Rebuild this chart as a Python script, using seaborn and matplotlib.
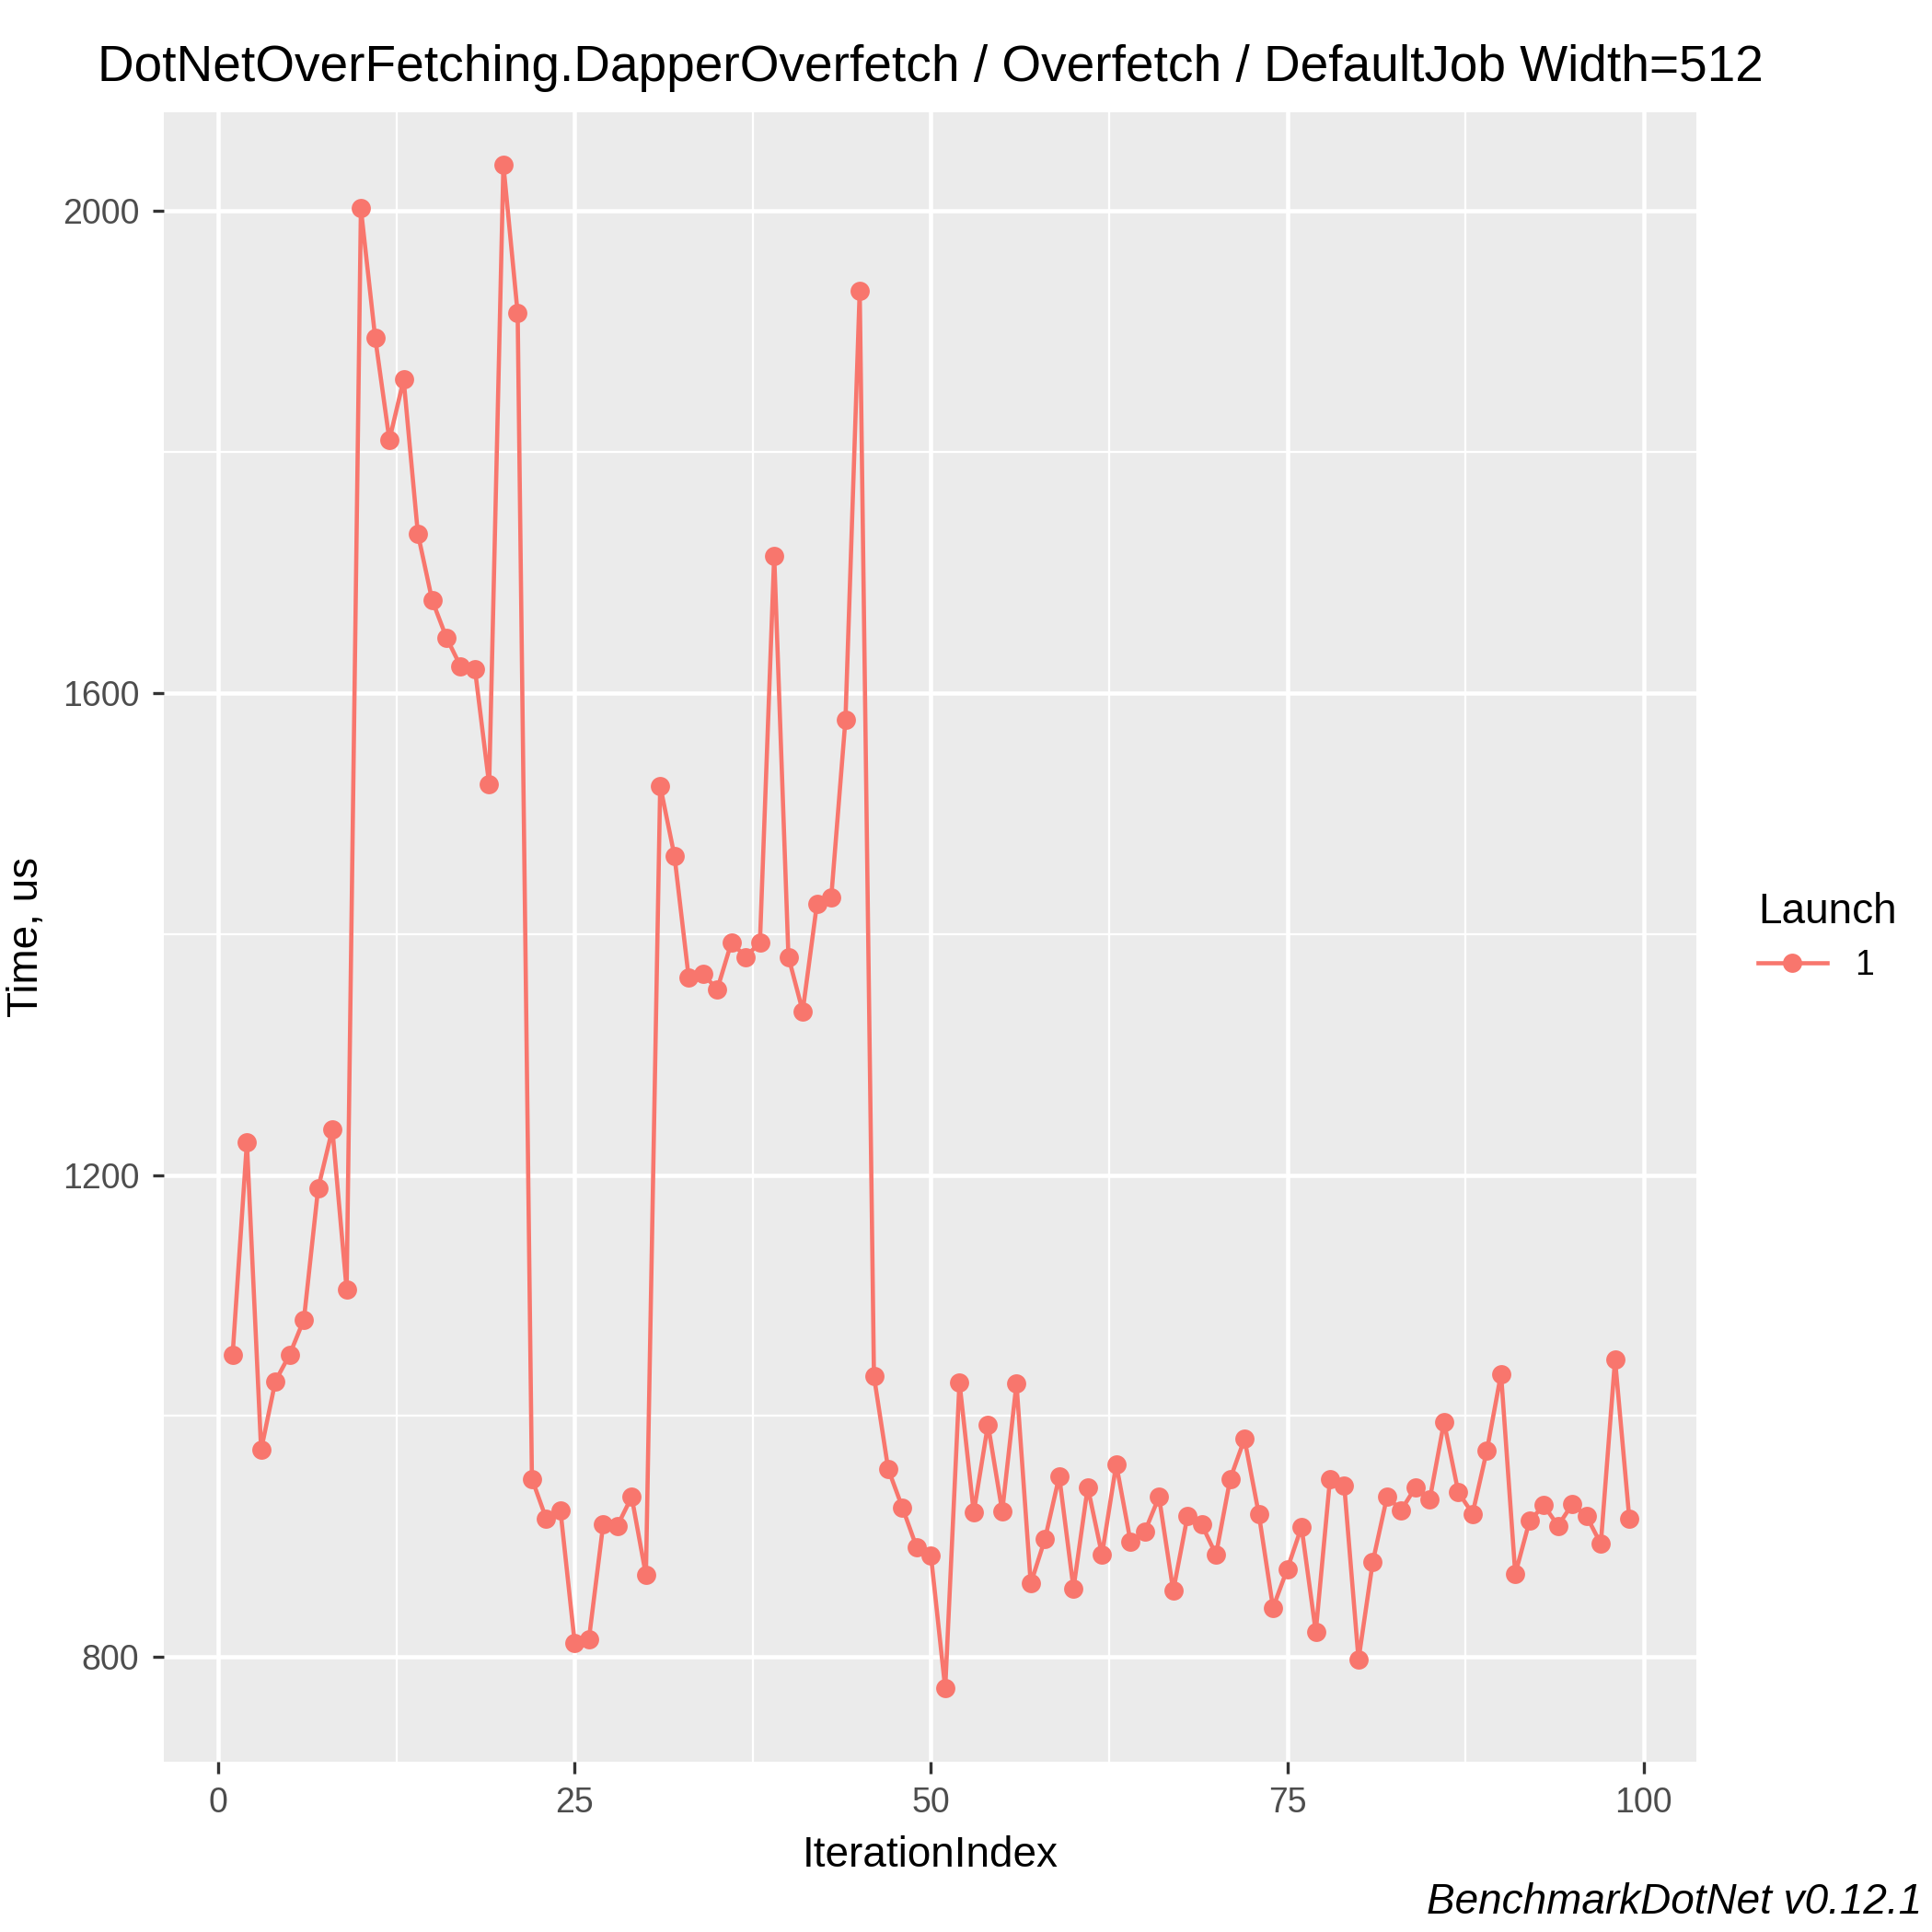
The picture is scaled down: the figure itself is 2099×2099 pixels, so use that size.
import numpy as np
import pandas as pd
import seaborn as sns
from matplotlib import pyplot as plt
from matplotlib.ticker import MultipleLocator

iteration = list(range(1, 100))
time_us = [1051, 1227, 972, 1029, 1051, 1080, 1189, 1238, 1105, 2002,
           1895, 1810, 1860, 1732, 1677, 1646, 1622, 1620, 1524, 2038,
           1915, 948, 915, 922, 812, 815, 910, 909, 933, 868,
           1523, 1465, 1364, 1367, 1354, 1393, 1381, 1393, 1714, 1381,
           1336, 1425, 1430, 1578, 1934, 1033, 956, 924, 891, 884,
           774, 1028, 920, 993, 921, 1027, 861, 898, 950, 857,
           941, 885, 960, 896, 904, 933, 855, 917, 910, 885,
           948, 981, 919, 841, 873, 908, 821, 948, 942, 798,
           879, 933, 922, 941, 931, 995, 937, 919, 971, 1035,
           869, 913, 926, 909, 927, 917, 894, 1047, 915]

df = pd.DataFrame({"IterationIndex": iteration, "Time": time_us, "Launch": "1"})

plt.rcParams["font.family"] = "Liberation Sans"
fig = plt.figure(figsize=(2099 / 300, 2099 / 300), dpi=300)
ax = fig.add_axes([0.085, 0.088, 0.793, 0.854])
ax.set_facecolor("#EBEBEB")

sns.lineplot(data=df, x="IterationIndex", y="Time", hue="Launch", palette=["#F8766D"],
             marker="o", markersize=5, markeredgewidth=0, linewidth=1.1, ax=ax, zorder=3)

ax.set_xlim(-3.8, 103.7)
ax.set_ylim(713, 2082)
ax.xaxis.set_major_locator(MultipleLocator(25))
ax.xaxis.set_minor_locator(MultipleLocator(12.5))
ax.yaxis.set_major_locator(MultipleLocator(400))
ax.set_yticks([1000, 1400, 1800], minor=True)
ax.grid(which="major", color="white", linewidth=1.1)
ax.grid(which="minor", color="white", linewidth=0.55)
ax.set_axisbelow(True)
for s in ax.spines.values():
    s.set_visible(False)
ax.tick_params(which="major", length=3, color="#333333", labelcolor="#4D4D4D", labelsize=9)
ax.tick_params(which="minor", length=0)

ax.set_xlabel("IterationIndex", fontsize=11)
ax.set_ylabel("Time, us", fontsize=11)
ax.set_title("DotNetOverFetching.DapperOverfetch / Overfetch / DefaultJob Width=512", fontsize=13.2, pad=8)

ax.legend(title="Launch", loc="center left", bbox_to_anchor=(1.02, 0.5), frameon=False,
          fontsize=9, title_fontsize=11, alignment="left")
fig.text(0.995, 0.005, "BenchmarkDotNet v0.12.1", ha="right", va="bottom", fontsize=11, style="italic")

plt.savefig("out.png", dpi=300)
